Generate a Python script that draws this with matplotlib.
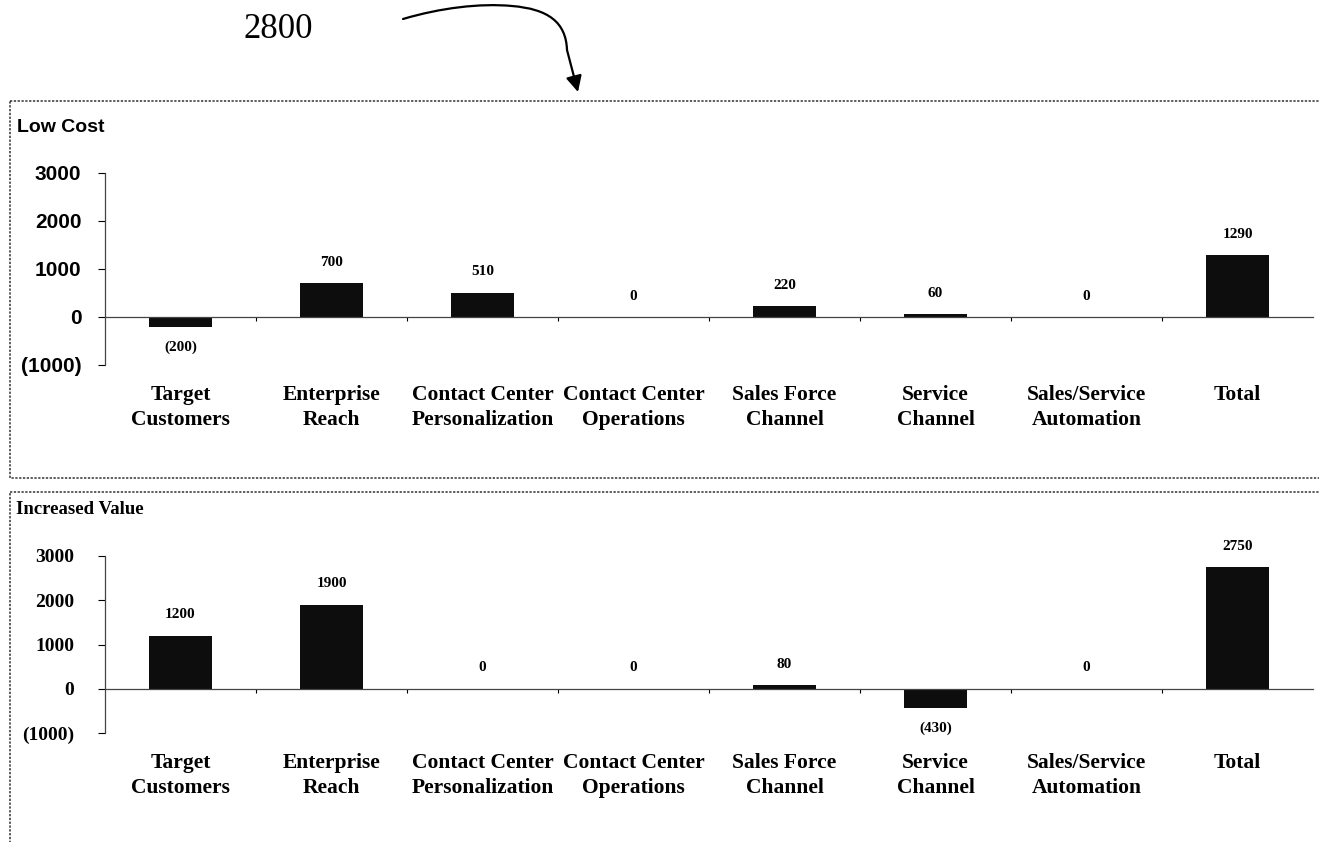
import matplotlib
matplotlib.use("Agg")
import matplotlib.pyplot as plt
from matplotlib.patches import Rectangle, FancyArrowPatch
from matplotlib.path import Path

# data
categories = ["Target\nCustomers", "Enterprise\nReach", "Contact Center\nPersonalization",
              "Contact Center\nOperations", "Sales Force\nChannel", "Service\nChannel",
              "Sales/Service\nAutomation", "Total"]
low_cost = [-200, 700, 510, 0, 220, 60, 0, 1290]
increased_value = [1200, 1900, 0, 0, 80, -430, 0, 2750]
y_ticks = [-1000, 0, 1000, 2000, 3000]
y_ticklabels = ["(1000)", "0", "1000", "2000", "3000"]

W, H = 1319, 842
fig = plt.figure(figsize=(W / 100, H / 100), dpi=100)

# overlay in pixel coords for the patent-style frame, reference numeral and arrow
over = fig.add_axes([0, 0, 1, 1], zorder=0)
over.set_xlim(0, W)
over.set_ylim(H, 0)
over.axis("off")
over.add_patch(Rectangle((10, 101), W, 377, fill=False, ls=(0, (1.5, 1)), lw=1.1, ec="#333333"))
over.add_patch(Rectangle((10, 492), W, 400, fill=False, ls=(0, (1.5, 1)), lw=1.1, ec="#333333"))
over.text(278, 30, "2800", fontsize=25, family="Liberation Serif", ha="center", va="center")
arrow_path = Path([(403, 19), (440, 8), (480, 3), (512, 6), (548, 9), (566, 22), (567, 50), (578, 92)],
                  [Path.MOVETO, Path.CURVE4, Path.CURVE4, Path.CURVE4,
                   Path.CURVE4, Path.CURVE4, Path.CURVE4, Path.LINETO])
over.add_patch(FancyArrowPatch(path=arrow_path, arrowstyle="-|>", mutation_scale=24, lw=1.6, color="black"))


def fmt(v):
    return "(%d)" % -v if v < 0 else "%d" % v


def draw_panel(rect, values, tick_font, tick_pad, label_pad):
    ax = fig.add_axes(rect, zorder=1)
    ax.patch.set_alpha(0)
    x = list(range(len(categories)))
    ax.bar(x, values, width=0.42, color="#0d0d0d", zorder=2)
    ax.set_xlim(-0.5, len(categories) - 0.5)
    ax.set_ylim(-1000, 3000)

    for s in ["top", "right"]:
        ax.spines[s].set_visible(False)
    ax.spines["bottom"].set_position(("data", 0))
    ax.spines["bottom"].set_linestyle((0, (2, 1)))
    ax.spines["bottom"].set_linewidth(0.9)
    ax.spines["bottom"].set_color("#444444")
    ax.spines["left"].set_linestyle((0, (2, 1)))
    ax.spines["left"].set_linewidth(0.9)
    ax.spines["left"].set_color("#444444")

    ax.set_yticks(y_ticks)
    ax.set_yticklabels(y_ticklabels, fontweight="bold", **tick_font)
    ax.tick_params(axis="y", length=5, width=0.8, pad=tick_pad, colors="black")

    ax.set_xticks(x)
    ax.set_xticklabels(categories, fontsize=15.5, fontweight="bold",
                       family="Liberation Serif", linespacing=1.35)
    ax.tick_params(axis="x", length=0, pad=label_pad)
    ax.set_xticks([i + 0.5 for i in x[:-1]], minor=True)
    ax.tick_params(axis="x", which="minor", length=3, width=0.8, direction="out")

    for xi, v in zip(x, values):
        off = -15 if v < 0 else 15
        ax.annotate(fmt(v), (xi, v), xytext=(0, off), textcoords="offset points",
                    ha="center", va="center", fontsize=11, fontweight="bold",
                    family="Liberation Serif")
    return ax


# top panel: 3000 at y=173px, -1000 at y=365px
draw_panel([105 / W, 1 - 365 / H, 1208 / W, 192 / H], low_cost,
           dict(fontsize=15, family="Liberation Sans"), 12, 49)
fig.text(17 / W, 1 - 127 / H, "Low Cost", fontsize=14, fontweight="bold",
         family="Liberation Sans", ha="left", va="center")

# bottom panel: 3000 at y=556px, -1000 at y=733px
draw_panel([105 / W, 1 - 733 / H, 1208 / W, 177 / H], increased_value,
           dict(fontsize=14, family="Liberation Serif"), 17, 46)
fig.text(16 / W, 1 - 510 / H, "Increased Value", fontsize=13.5, fontweight="bold",
         family="Liberation Serif", ha="left", va="center")

fig.savefig("out.png", dpi=100)
